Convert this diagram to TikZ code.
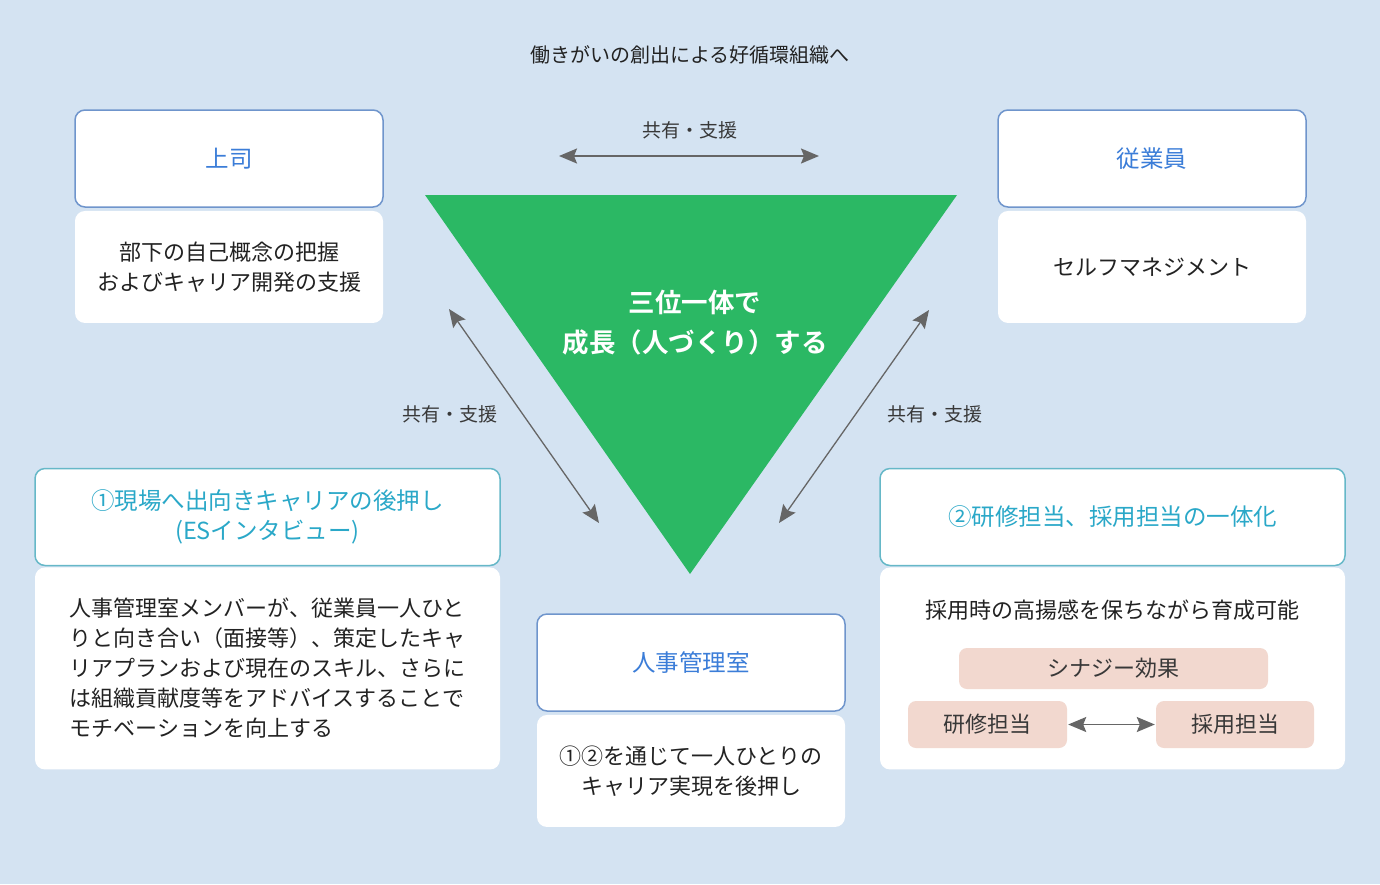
\documentclass[tikz,border=0pt]{standalone}
\usepackage{fontspec}
\setmainfont{Noto Sans CJK JP}[BoldFont={Noto Sans CJK JP Bold}]
\usetikzlibrary{positioning,arrows.meta}
\definecolor{bgblue}{HTML}{D4E3F2}
\definecolor{inkgray}{HTML}{222222}
\definecolor{arrowgray}{HTML}{666666}
\definecolor{headblue}{HTML}{3B7DD8}
\definecolor{lineblue}{HTML}{6F95CC}
\definecolor{tealtext}{HTML}{2AA8C8}
\definecolor{tealline}{HTML}{66B8C8}
\definecolor{trigreen}{HTML}{2BB864}
\definecolor{pinkfill}{HTML}{F2D8CF}

\begin{document}
\begin{tikzpicture}[x=1pt, y=-1pt,
    every node/.style={font=\fontsize{22}{30}\selectfont, text=inkgray},
    head/.style={draw=lineblue, line width=1.5pt, rounded corners=10pt, fill=white,
      minimum width=308pt, minimum height=97pt, text=headblue, font=\fontsize{23.5}{30}\selectfont},
    headwide/.style={head, draw=tealline, text=tealtext, minimum width=465pt, align=center},
    body/.style={fill=white, rounded corners=10pt, minimum width=308pt, minimum height=112pt, align=center},
    bodywide/.style={body, minimum width=465pt, minimum height=202pt},
    tag/.style={fill=pinkfill, rounded corners=8pt, minimum height=44pt, text=inkgray!90},
    note/.style={font=\fontsize{19}{24}\selectfont, text=inkgray!90},
    link/.style={{Stealth[length=18pt,width=15pt,inset=3pt]}-{Stealth[length=18pt,width=15pt,inset=3pt]}, arrowgray, line width=1.3pt},
  ]
  % background
  \fill[bgblue] (0,0) rectangle (1380,884);
  \useasboundingbox (0,0) rectangle (1380,884);

  % title
  \node[font=\fontsize{20}{24}\selectfont] (title) at (690,55) {働きがいの創出による好循環組織へ};

  % center triangle
  \fill[trigreen] (425,195) -- (957,195) -- (690,574) -- cycle;
  \node[text=white, font=\fontsize{26.5}{40}\bfseries\selectfont, align=center] (core) at (695,323)
    {三位一体で\\成長（人づくり）する};

  % top corners
  \node[head] (boss) at (229,158.5) {上司};
  \node[body, below=3pt of boss] (bossnote) {部下の自己概念の把握\\およびキャリア開発の支援};
  \node[head] (staff) at (1152,158.5) {従業員};
  \node[body, below=3pt of staff] (staffnote) {セルフマネジメント};

  % bottom left
  \node[headwide] (field) at (267.5,517) {①現場へ出向きキャリアの後押し\\(ESインタビュー)};
  \node[bodywide, below=1pt of field, text width=396pt, align=left] (fieldnote)
    {人事管理室メンバーが、従業員一人ひと\\りと向き合い（面接等）、策定したキャ\\リアプランおよび現在のスキル、さらに\\は組織貢献度等をアドバイスすることで\\モチベーションを向上する};

  % bottom center
  \node[head] (hr) at (691,662.5) {人事管理室};
  \node[body, below=3pt of hr] (hrnote) {①②を通じて一人ひとりの\\キャリア実現を後押し};

  % bottom right
  \node[headwide] (unify) at (1112.5,517) {②研修担当、採用担当の一体化};
  \node[bodywide, below=1pt of unify] (unifynote) {};
  \node (unifytxt) at (1112,610) {採用時の高揚感を保ちながら育成可能};
  \node[tag, minimum width=309pt, minimum height=41pt] (synergy) at (1113.5,668.5) {シナジー効果};
  \node[tag, minimum width=159pt, minimum height=47pt] (train) at (987.5,724.5) {研修担当};
  \node[tag, minimum width=158pt, minimum height=47pt] (hire) at (1235,724.5) {採用担当};
  \draw[link, line width=1.6pt, shorten <=1pt, shorten >=1pt] (train.east) -- (hire.west);

  % share / support arrows
  \coordinate (topL) at (559,156);
  \coordinate (topR) at (819,156);
  \coordinate (leftU) at (449,309);
  \coordinate (leftD) at (599,523);
  \coordinate (rightU) at (929,310);
  \coordinate (rightD) at (779,523);
  \draw[link, line width=1.8pt] (topL) -- (topR);
  \draw[link] (leftU) -- (leftD);
  \draw[link] (rightU) -- (rightD);
  \node[note] (shareT) at (690,130) {共有・支援};
  \node[note] (shareL) at (450,414) {共有・支援};
  \node[note] (shareR) at (935,414) {共有・支援};
\end{tikzpicture}
\end{document}
